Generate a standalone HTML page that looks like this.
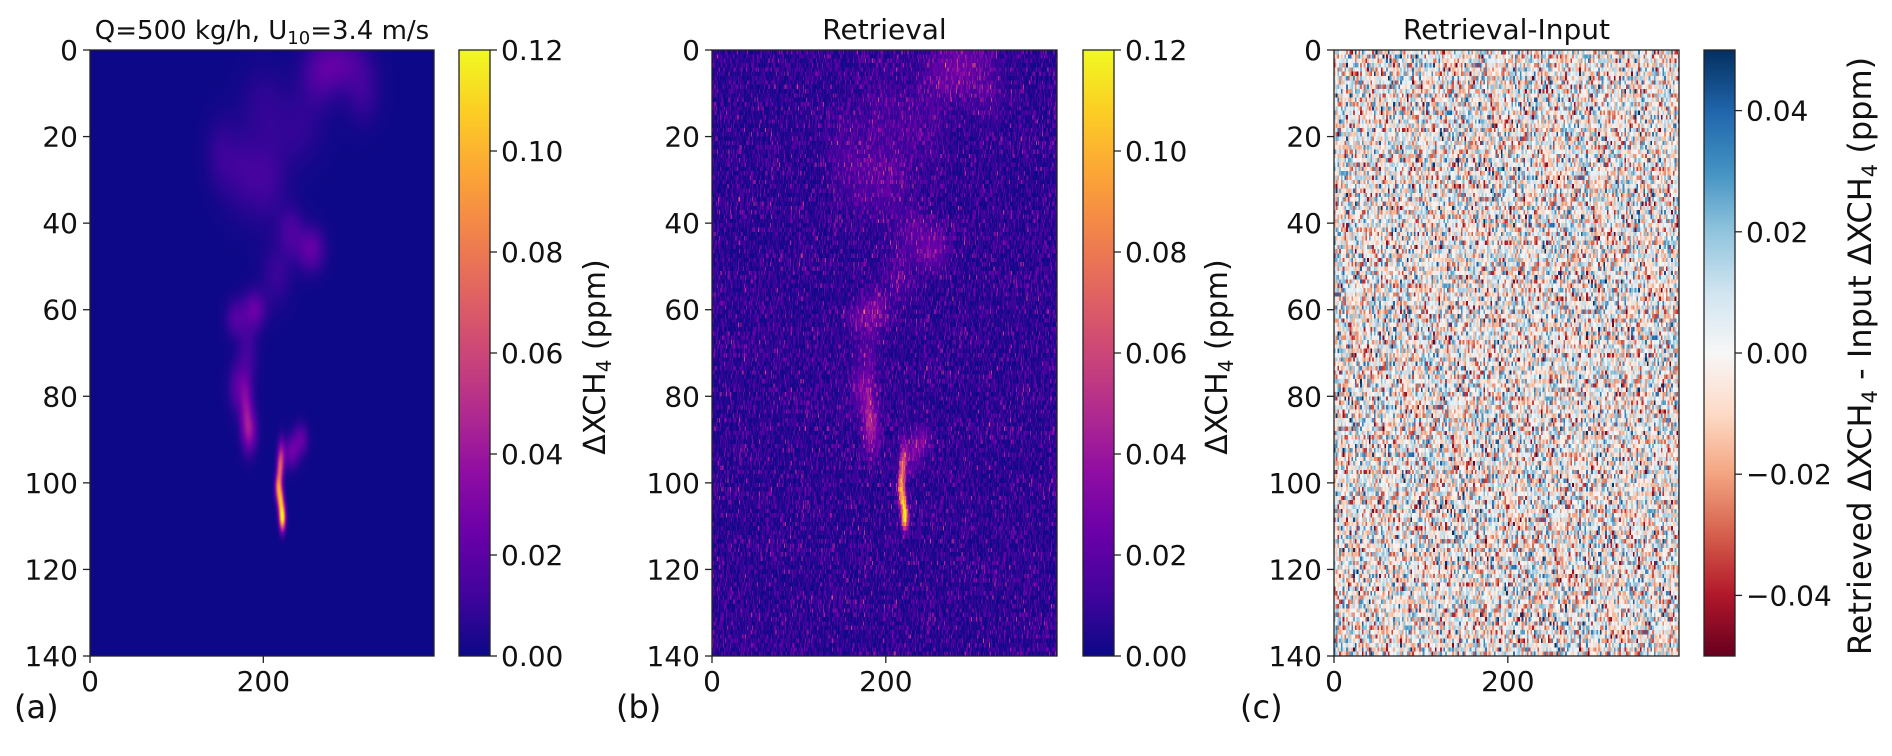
<!DOCTYPE html>
<html><head><meta charset="utf-8">
<style>
html,body{margin:0;padding:0;background:#fff;width:1892px;height:756px;overflow:hidden}
#root{position:relative;width:1892px;height:756px}
canvas{position:absolute}
svg{position:absolute;left:0;top:0}
text{font-family:"DejaVu Sans","Liberation Sans",sans-serif;fill:#111}
</style></head>
<body>
<div id="root">
<canvas id="ca" width="397" height="140" style="left:90px;top:50px;width:344px;height:606px"></canvas>
<canvas id="cb" width="397" height="140" style="left:712px;top:50px;width:345px;height:606px;image-rendering:pixelated"></canvas>
<canvas id="cc" width="397" height="140" style="left:1334px;top:50px;width:345px;height:606px;image-rendering:pixelated"></canvas>
<canvas id="cba" width="1" height="300" style="left:459px;top:50px;width:31px;height:606px"></canvas>
<canvas id="cbb" width="1" height="300" style="left:1083px;top:50px;width:31px;height:606px"></canvas>
<canvas id="cbc" width="1" height="300" style="left:1704px;top:50px;width:31px;height:606px"></canvas>
<svg id="ov" width="1892" height="756"></svg>
</div>
<script>
// ---- data ----
const plumeX = [222,220,217,219,221,232,243,184,180,170,190,168,182,255,232,205,175,150,290,265,315,240,215,200];
const plumeY = [108,104,101,97,94,93,90,88,82,78,60,62,70,46,42,30,28,24,3,6,10,18,52,12];
const plumeSx = [2.5,2.5,2.5,2.5,3,6,6,6,5,7,9,8,8,11,10,16,16,12,20,16,14,20,12,18];
const plumeSy = [2,2,2,2.5,3,2.5,2.5,3.5,4.5,4,3,3,6,3.5,4,7,7,6,4,5,5,6,5,6];
const plumeAmp = [0.12,0.085,0.07,0.05,0.035,0.024,0.022,0.034,0.026,0.018,0.022,0.016,0.012,0.022,0.014,0.011,0.01,0.008,0.017,0.013,0.01,0.008,0.01,0.007];
const yTicks = [0,20,40,60,80,100,120,140];
const xTicks = [0,200];
const cbTicksAB = [0.00,0.02,0.04,0.06,0.08,0.10,0.12];
const cbTicksC = [-0.04,-0.02,0.00,0.02,0.04];
const noiseStdB = 0.011;
const noiseStdC = 0.02;

const plasma=["#0d0887","#41049d","#6a00a8","#8f0da4","#b12a90","#cc4778","#e16462","#f2844b","#fca636","#fcce25","#f0f921"];
const rdbu=["#67001f","#b2182b","#d6604d","#f4a582","#fddbc7","#f7f7f7","#d1e5f0","#92c5de","#4393c3","#2166ac","#053061"];
function hex(h){return [1,3,5].map(i=>parseInt(h.substr(i,2),16));}
const P=plasma.map(hex), R=rdbu.map(hex);
function cmap(stops,t){t=Math.max(0,Math.min(1,t));const f=t*(stops.length-1);const i=Math.min(stops.length-2,Math.floor(f));const u=f-i;
return stops[i].map((v,k)=>Math.round(v+(stops[i+1][k]-v)*u));}

const W=397,H=140;
function plume(x,y){let s=0;for(let i=0;i<plumeX.length;i++){const dx=(x-plumeX[i])/plumeSx[i],dy=(y-plumeY[i])/plumeSy[i];s+=plumeAmp[i]*Math.exp(-0.5*(dx*dx+dy*dy));}return Math.min(s,0.12);}
// deterministic noise texture (sensor noise field)
let seed=12345;function rnd(){seed=(seed*1103515245+12345)&0x7fffffff;return seed/0x7fffffff;}
function gauss(){return (rnd()+rnd()+rnd()+rnd()-2)*1.73;}

function draw(id,fn){const c=document.getElementById(id),ctx=c.getContext('2d');const img=ctx.createImageData(W,H);
for(let y=0;y<H;y++)for(let x=0;x<W;x++){const col=fn(x+0.5,y+0.5);const k=(y*W+x)*4;img.data[k]=col[0];img.data[k+1]=col[1];img.data[k+2]=col[2];img.data[k+3]=255;}
ctx.putImageData(img,0,0);}
draw('ca',(x,y)=>cmap(P,plume(x,y)/0.12));
draw('cb',(x,y)=>{const g=Math.abs(gauss());return cmap(P,(plume(x,y)*0.9+Math.pow(g,1.6)*noiseStdB)/0.12);});
let prevC=0;
draw('cc',(x,y)=>{if(Math.floor(x)%2===0)prevC=gauss();return cmap(R,(prevC*noiseStdC+0.05)/0.1);});
function bar(id,stops){const c=document.getElementById(id),ctx=c.getContext('2d');for(let i=0;i<300;i++){const col=cmap(stops,1-i/299);ctx.fillStyle=`rgb(${col})`;ctx.fillRect(0,i,1,1);}}
bar('cba',P);bar('cbb',P);bar('cbc',R);

// ---- overlay ----
const ov=document.getElementById('ov');const NS='http://www.w3.org/2000/svg';
function el(tag,attrs,txt){const e=document.createElementNS(NS,tag);for(const k in attrs)e.setAttribute(k,attrs[k]);if(txt!==undefined)e.textContent=txt;ov.appendChild(e);return e;}
const axTop=50,axBot=656;
const panels=[{l:90,r:434,cb:459,lab:'(a)',lx:14,title:'Q=500 kg/h, U',cbl:594,kind:'ab'},
{l:712,r:1057,cb:1083,lab:'(b)',lx:616,title:'Retrieval',cbl:1216,kind:'ab'},
{l:1334,r:1679,cb:1704,lab:'(c)',lx:1240,title:'Retrieval-Input',cbl:1860,kind:'c'}];
panels.forEach((p,pi)=>{
 const yS=v=>axTop+(axBot-axTop)*v/H, xS=v=>p.l+(p.r-p.l)*v/W;
 let e=el('rect',{x:p.l,y:axTop,width:p.r-p.l,height:axBot-axTop,fill:'none',stroke:'#222','stroke-width':1.3});
 
 yTicks.forEach(t=>{const y=yS(t);el('line',{x1:p.l-7,x2:p.l,y1:y,y2:y,stroke:'#222','stroke-width':1.3});
  const tx=el('text',{x:p.l-12,y:y+10,'font-size':28,'text-anchor':'end'},String(t));
  });
 xTicks.forEach(t=>{const x=xS(t);el('line',{x1:x,x2:x,y1:axBot,y2:axBot+7,stroke:'#222','stroke-width':1.3});
  const tx=el('text',{x:x,y:axBot+35,'font-size':28,'text-anchor':'middle'},String(t));
  });
 let tt;
 if(pi===0){tt=el('text',{x:(p.l+p.r)/2,y:39,'font-size':26,'text-anchor':'middle'});
  tt.innerHTML='Q=500 kg/h, U<tspan font-size="18" dy="5">10</tspan><tspan dy="-5">=3.4 m/s</tspan>';}
 else tt=el('text',{x:(p.l+p.r)/2,y:39,'font-size':28,'text-anchor':'middle'},p.title);
 
 const lb=el('text',{x:p.lx,y:718,'font-size':32},p.lab);
 
 el('rect',{x:p.cb,y:axTop,width:31,height:axBot-axTop,fill:'none',stroke:'#222','stroke-width':1.3});
 const ticks=p.kind==='ab'?cbTicksAB:cbTicksC;const lo=p.kind==='ab'?0:-0.05,hi=p.kind==='ab'?0.12:0.05;
 ticks.forEach(t=>{const y=axBot-(axBot-axTop)*(t-lo)/(hi-lo);el('line',{x1:p.cb+31,x2:p.cb+38,y1:y,y2:y,stroke:'#222','stroke-width':1.3});
  const s=(t<0?'\u2212':'')+Math.abs(t).toFixed(2);
  const tx=el('text',{x:p.cb+42,y:y+10,'font-size':28},s);
  });
 const cy=p.kind==='ab'?357:356;
 const fs=p.kind==='ab'?30:32, sub=p.kind==='ab'?20:21;
 const cl=el('text',{x:p.cbl,y:cy,'font-size':fs,'text-anchor':'middle',transform:`rotate(-90 ${p.cbl} ${cy}) translate(0 11)`});
 cl.innerHTML=p.kind==='ab'?`ΔXCH<tspan font-size="${sub}" dy="6">4</tspan><tspan dy="-6"> (ppm)</tspan>`:
 `Retrieved ΔXCH<tspan font-size="${sub}" dy="6">4</tspan><tspan dy="-6"> - Input ΔXCH</tspan><tspan font-size="${sub}" dy="6">4</tspan><tspan dy="-6"> (ppm)</tspan>`;
 
});
</script>
</body></html>
